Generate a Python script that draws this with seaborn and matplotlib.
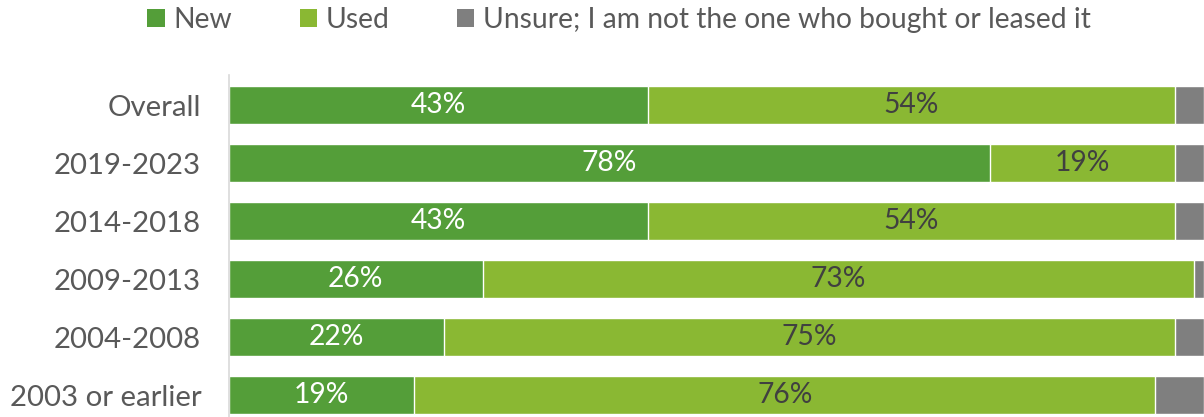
import numpy as np
import pandas as pd
import matplotlib
matplotlib.use("Agg")
import matplotlib.pyplot as plt
from matplotlib.patches import Patch
import seaborn as sns

categories = ["Overall", "2019-2023", "2014-2018", "2009-2013", "2004-2008", "2003 or earlier"]
new_pct = [43, 78, 43, 26, 22, 19]
used_pct = [54, 19, 54, 73, 75, 76]
unsure_pct = [3, 3, 3, 1, 3, 5]
series_names = ["New", "Used", "Unsure; I am not the one who bought or leased it"]

c_new = "#549E39"
c_used = "#8AB833"
c_unsure = "#7F7F7F"
text_gray = "#595959"

sns.set_theme(style="white")
plt.rcParams["font.family"] = ["Lato", "DejaVu Sans"]

FS = 20.3
FS_TICK = 21.2

df = pd.DataFrame({"cat": categories, "new": new_pct, "used": used_pct, "unsure": unsure_pct})
df["cum_new"] = df["new"]
df["cum_used"] = df["new"] + df["used"]
df["cum_all"] = df["cum_used"] + df["unsure"]

fig = plt.figure(figsize=(12.04, 4.17), dpi=100)
ax = fig.add_axes([229 / 1204, 0.0, 1 - 229 / 1204, 1 - 75 / 417])

bw = 0.655
# Stack by overlaying cumulative totals, widest first
for col, color in [("cum_all", c_unsure), ("cum_used", c_used), ("cum_new", c_new)]:
    sns.barplot(data=df, x=col, y="cat", orient="h", color=color, width=bw,
                edgecolor="white", linewidth=1.0, saturation=1, ax=ax, order=categories)

for i, row in df.iterrows():
    ax.text(row["new"] / 2, i, f"{row['new']}%", ha="center", va="center",
            color="white", fontsize=FS)
    ax.text(row["new"] + row["used"] / 2, i, f"{row['used']}%", ha="center", va="center",
            color="#404040", fontsize=FS)

ax.set_xlim(0, 100)
ax.set_ylim(5 + 22 / 58, -30 / 58)
ax.set_xlabel("")
ax.set_ylabel("")
ax.set_xticks([])
for s in ["top", "right", "bottom"]:
    ax.spines[s].set_visible(False)
ax.spines["left"].set_color("#D9D9D9")
ax.spines["left"].set_linewidth(1.2)
ax.tick_params(axis="y", length=0, pad=20, labelsize=FS_TICK, labelcolor=text_gray)

handles = [Patch(facecolor=c, edgecolor="none") for c in (c_new, c_used, c_unsure)]
leg = fig.legend(handles, series_names, loc="center", bbox_to_anchor=(619 / 1204, 1 - 20 / 417),
                 ncol=3, frameon=False, handlelength=0.62, handleheight=0.62,
                 handletextpad=0.3, columnspacing=2.4, labelcolor=text_gray,
                 prop={"size": FS})

fig.savefig("out.png", dpi=100)
